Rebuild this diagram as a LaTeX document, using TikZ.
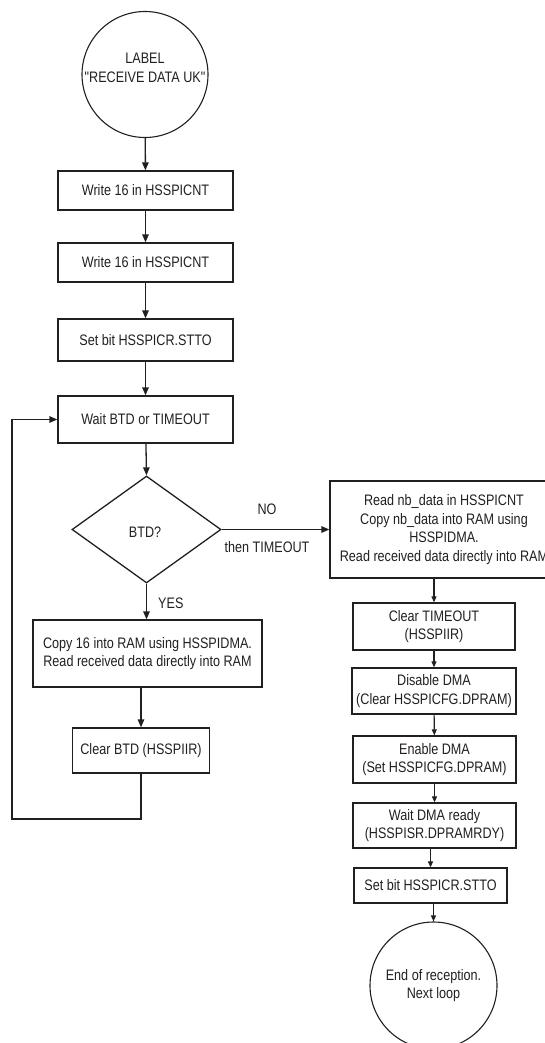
\documentclass[tikz,border=0pt]{standalone}
\usepackage{fontspec}
\setmainfont{Liberation Sans}[FakeStretch=0.83, Ligatures=TeXOff]
\usetikzlibrary{shapes.geometric,arrows.meta}
\definecolor{ink}{HTML}{231F20}
\begin{document}
\begin{tikzpicture}[x=1pt,y=-1pt,
  every node/.style={font=\fontsize{15.2}{18.5}\selectfont, text=ink},
  stepbox/.style={draw=ink, line width=1.3pt, rectangle, inner sep=0pt, align=center},
  termcirc/.style={draw=ink, line width=1.1pt, circle, inner sep=0pt, align=center},
  decision/.style={draw=ink, line width=1.3pt, diamond, inner sep=0pt},
  arr/.style={draw=ink, line width=1.3pt, -{Triangle[length=8pt,width=6.5pt]}},
  sarr/.style={draw=ink, line width=1.1pt, -{Triangle[length=6pt,width=5pt]}},
  lbl/.style={inner sep=0pt}
]
\useasboundingbox (0,0) rectangle (545,1043);

% main column
\node[termcirc, minimum size=126pt] (start) at (145,74.5) {};
\node[lbl, align=center] (starttxt) at (145,68) {LABEL\\"RECEIVE DATA UK"};
\node[stepbox, minimum width=175pt, minimum height=39pt] (w1) at (145.5,190.5) {Write 16 in HSSPICNT};
\node[stepbox, minimum width=175pt, minimum height=39pt] (w2) at (145.5,262.5) {Write 16 in HSSPICNT};
\node[stepbox, minimum width=175pt, minimum height=42pt] (stto) at (145.5,340) {Set bit HSSPICR.STTO};
\node[stepbox, minimum width=175pt, minimum height=47pt] (wait) at (145.5,419.5) {Wait BTD or TIMEOUT};
\node[decision, minimum width=149pt, minimum height=107pt] (btd) at (146.5,529.5) {};
\node[lbl] (btdtxt) at (145,532) {BTD?};
\node[stepbox, minimum width=229pt, minimum height=67pt] (copy) at (147.5,653.5)
  {Copy 16 into RAM using HSSPIDMA.\\Read received data directly into RAM};
\node[stepbox, minimum width=137pt, minimum height=45pt] (clrbtd) at (141,750.5) {Clear BTD (HSSPIIR)};

\draw[arr] (start) -- (w1);
\draw[arr] (w1) -- (w2);
\draw[arr] (w2) -- (stto);
\draw[arr] (stto) -- (wait);
\draw[arr] (wait) -- (btd.north);
\draw[arr] (btd.south) -- (btd.south |- copy.north);
\node[lbl, anchor=west] (yes) at (158,603) {YES};
\draw[arr] (copy.south -| clrbtd.north) -- (clrbtd.north);

% loop back to the wait step
\coordinate (loopcorner) at (12,819);
\draw[arr] (clrbtd.south) |- (loopcorner) |- (wait.west);

% timeout branch
\node[stepbox, minimum width=228pt, minimum height=97pt] (rd) at (444,529.5)
  {Read nb\_data in HSSPICNT\\Copy nb\_data into RAM using\\HSSPIDMA.\\Read received data directly into RAM};
\draw[arr] (btd.east) -- (rd.west);
\node[lbl] (no) at (267,509) {NO};
\node[lbl] (then) at (267,547) {then TIMEOUT};

\node[stepbox, minimum width=162pt, minimum height=47pt] (ctmo) at (434,626.5) {Clear TIMEOUT\\(HSSPIIR)};
\node[stepbox, minimum width=164pt, minimum height=46pt] (dis) at (434,691) {Disable DMA\\(Clear HSSPICFG.DPRAM)};
\node[stepbox, minimum width=163pt, minimum height=47pt] (en) at (434.5,759.5) {Enable DMA\\(Set HSSPICFG.DPRAM)};
\node[stepbox, minimum width=163pt, minimum height=45pt] (rdy) at (434.5,825.5) {Wait DMA ready\\(HSSPISR.DPRAMRDY)};
\node[stepbox, minimum width=153pt, minimum height=35pt] (stto2) at (430.5,885.5) {Set bit HSSPICR.STTO};
\node[termcirc, minimum size=127pt] (fin) at (433.5,985.5) {End of reception.\\Next loop};

\draw[sarr] (ctmo.north |- rd.south) -- (ctmo.north);
\draw[sarr] (ctmo) -- (dis);
\draw[sarr] (dis) -- (en);
\draw[sarr] (en) -- (rdy);
\draw[sarr] (rdy.south -| stto2.north) -- (stto2.north);
\draw[sarr] (stto2.south -| fin.north) -- (fin.north);
\end{tikzpicture}
\end{document}
